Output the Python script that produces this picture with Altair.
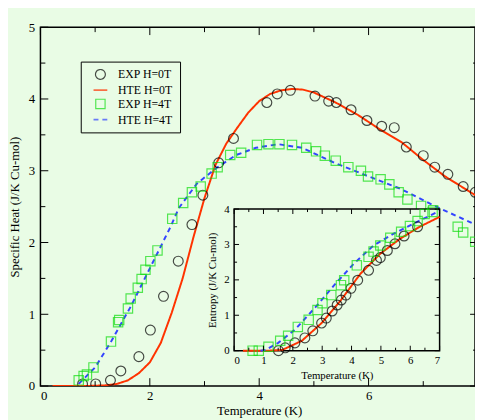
import altair as alt
import pandas as pd

# ---------------- data ----------------
SERIES = ["EXP H=0T", "HTE H=0T", "EXP H=4T", "HTE H=4T"]
COLORS = ["#000000", "#ff3300", "#11dd11", "#3344ff"]

# main panel: specific heat vs temperature
exp0_T = [0.77, 1.01, 1.28, 1.47, 1.80, 2.01, 2.25, 2.52, 2.77, 2.97, 3.26, 3.53, 4.14, 4.33,
          4.57, 5.02, 5.27, 5.41, 5.68, 5.97, 6.24, 6.47, 6.69, 7.00, 7.21, 7.45, 7.73, 7.95]
exp0_C = [0.03, 0.03, 0.08, 0.21, 0.41, 0.78, 1.25, 1.74, 2.25, 2.66, 3.11, 3.45, 3.95, 4.07,
          4.12, 4.04, 3.97, 3.95, 3.85, 3.70, 3.62, 3.60, 3.33, 3.21, 3.05, 2.95, 2.78, 2.70]

exp4_T = [0.70, 0.79, 0.85, 0.97, 1.29, 1.42, 1.44, 1.60, 1.65, 1.78, 1.85, 1.92, 2.01, 2.14,
          2.41, 2.61, 2.77, 2.93, 3.13, 3.24, 3.47, 3.67, 3.96, 4.17, 4.37, 4.60, 4.86, 5.04,
          5.20, 5.40, 5.63, 5.86, 5.99, 6.22, 6.38, 6.55, 6.71, 6.96, 7.18, 7.63, 7.73, 7.95]
exp4_C = [0.08, 0.14, 0.16, 0.26, 0.62, 0.89, 0.92, 1.08, 1.22, 1.37, 1.49, 1.62, 1.74, 1.89,
          2.33, 2.55, 2.70, 2.78, 2.96, 3.05, 3.22, 3.25, 3.36, 3.37, 3.37, 3.36, 3.32, 3.27,
          3.21, 3.14, 3.05, 3.00, 2.92, 2.88, 2.81, 2.70, 2.60, 2.51, 2.45, 2.22, 2.14, 2.01]

hte0_T = [0.22, 0.8, 1.2, 1.4, 1.6, 1.8, 2.0, 2.2, 2.4, 2.6, 2.8, 3.0, 3.2, 3.4, 3.6, 3.8,
          4.0, 4.2, 4.4, 4.6, 4.8, 5.0, 5.4, 5.8, 6.2, 6.6, 7.0, 7.4, 7.95]
hte0_C = [0.0, 0.0, 0.01, 0.03, 0.08, 0.18, 0.33, 0.60, 1.02, 1.50, 2.08, 2.62, 3.08, 3.38,
          3.60, 3.81, 3.97, 4.07, 4.12, 4.14, 4.13, 4.09, 3.95, 3.78, 3.58, 3.40, 3.15, 2.92, 2.66]

hte4_T = [0.70, 1.0, 1.3, 1.66, 2.02, 2.38, 2.53, 2.86, 3.22, 3.58, 3.94, 4.35, 4.78, 5.38,
          5.97, 6.58, 7.18, 7.95]
hte4_C = [0.03, 0.26, 0.63, 1.12, 1.67, 2.22, 2.48, 2.82, 3.04, 3.22, 3.32, 3.37, 3.32, 3.11,
          2.93, 2.75, 2.52, 2.25]

# inset: entropy vs temperature
s_exp0_T = [1.51, 1.74, 2.07, 2.41, 2.68, 2.98, 3.14, 3.34, 3.51, 3.65, 3.81, 3.98, 4.21, 4.58,
            4.85, 4.98, 5.22, 5.48, 5.79, 6.25]
s_exp0_S = [0.0, 0.08, 0.22, 0.36, 0.56, 0.78, 0.92, 1.12, 1.29, 1.43, 1.57, 1.76, 1.99, 2.27,
            2.55, 2.63, 2.83, 3.02, 3.24, 3.50]

s_exp4_T = [0.63, 0.84, 1.17, 1.57, 1.84, 2.17, 2.54, 2.84, 3.01, 3.31, 3.64, 3.75, 4.18, 4.58,
            4.75, 4.98, 5.32, 5.69, 5.99, 6.25, 6.49, 6.76]
s_exp4_S = [0.0, 0.0, 0.11, 0.28, 0.42, 0.67, 0.87, 1.15, 1.34, 1.57, 1.85, 1.99, 2.41, 2.65,
            2.80, 2.97, 3.19, 3.36, 3.52, 3.66, 3.86, 3.92]

s_hte0_T = [0.3, 1.2, 1.64, 2.31, 2.98, 3.64, 4.31, 4.98, 5.65, 6.32, 7.0]
s_hte0_S = [0.0, 0.0, 0.02, 0.28, 0.78, 1.43, 2.18, 2.74, 3.16, 3.50, 3.78]

s_hte4_T = [0.9, 1.07, 1.5, 2.07, 2.74, 3.41, 4.08, 4.75, 5.42, 6.09, 7.0]
s_hte4_S = [0.0, 0.02, 0.22, 0.59, 1.20, 1.85, 2.46, 2.97, 3.30, 3.58, 3.95]

# tick values
x_major = [0, 2, 4, 6]
x_minor = [1, 3, 5, 7]
y_major = [0, 1, 2, 3, 4, 5]
y_minor = [0.5, 1.5, 2.5, 3.5, 4.5]
in_x_major = [0, 1, 2, 3, 4, 5, 6, 7]
in_x_minor = [0.5, 1.5, 2.5, 3.5, 4.5, 5.5, 6.5]
in_y_major = [0, 1, 2, 3, 4]
in_y_minor = [0.5, 1.5, 2.5, 3.5]
inset_box = {"x0": [0], "x1": [7], "y0": [0], "y1": [4]}

# ---------------- build ----------------
BG = "#e9fce5"
FONT = "Liberation Serif"
W, H = 442, 365


def frame(xs, ys, s):
    return pd.DataFrame({"T": xs, "V": ys, "series": s})


main_pts = pd.concat([frame(exp0_T, exp0_C, SERIES[0]), frame(exp4_T, exp4_C, SERIES[2])])
main_lines = pd.concat([frame(hte0_T, hte0_C, SERIES[1]), frame(hte4_T, hte4_C, SERIES[3])])
in_pts = pd.concat([frame(s_exp0_T, s_exp0_S, SERIES[0]), frame(s_exp4_T, s_exp4_S, SERIES[2])])
in_lines = pd.concat([frame(s_hte0_T, s_hte0_S, SERIES[1]), frame(s_hte4_T, s_hte4_S, SERIES[3])])

xs_main = alt.Scale(domain=[0, 8], range=[0, 445], nice=False, zero=False)
ys_main = alt.Scale(domain=[0, 5], nice=False, zero=False)
XL, XR, YT, YB = 197, 406, 185, 329
xs_in = alt.Scale(domain=[0, 7], range=[XL, XR], nice=False, zero=False)
ys_in = alt.Scale(domain=[0, 4], range=[YB, YT], nice=False, zero=False)

ax_main_x = alt.Axis(values=x_major, ticks=False, domain=False, grid=False,
                     labelPadding=4, titlePadding=2, title="Temperature (K)")
ax_main_y = alt.Axis(values=y_major, ticks=False, domain=False, grid=False,
                     labelPadding=6, titlePadding=7, title="Specific Heat (J/K Cu-mol)")
ax_in_x = alt.Axis(orient="bottom", offset=-(H - YB), values=in_x_major, ticks=False,
                   domain=False, grid=False, zindex=1, labelFontSize=11, labelPadding=4,
                   titleFontSize=11, titlePadding=4, title="Temperature (K)")
ax_in_y = alt.Axis(orient="left", offset=-XL, values=in_y_major, ticks=False,
                   domain=False, grid=False, zindex=1, labelFontSize=11, labelPadding=5,
                   titleFontSize=11, titlePadding=6, title="Entropy (J/K Cu-mol)")

leg = alt.Legend(title=None, orient="none", legendX=41, legendY=35)
color = alt.Color("series:N", scale=alt.Scale(domain=SERIES, range=COLORS), legend=leg)
shape = alt.Shape("series:N", scale=alt.Scale(type="ordinal", domain=SERIES,
                  range=["circle", "stroke", "square", "stroke"]), legend=leg)
size = alt.Size("series:N", scale=alt.Scale(type="ordinal", domain=SERIES,
                range=[100, 196, 90, 196]), legend=leg)
swidth = alt.StrokeWidth("series:N", scale=alt.Scale(type="ordinal", domain=SERIES,
                         range=[1.2, 2, 1.2, 2]), legend=leg)
dash = alt.StrokeDash("series:N", scale=alt.Scale(type="ordinal", domain=SERIES,
                      range=[[1, 0], [1, 0], [1, 0], [5, 4]]), legend=leg)


def tick_layers(xs, ys, axx, axy, xmaj, xmin, ymaj, ymin, left, right, top, bottom, lmaj, lmin):
    layers = []
    for vals, ln in ((xmaj, lmaj), (xmin, lmin)):
        d = pd.DataFrame({"t": vals})
        base = alt.Chart(d).mark_rule(color="black", strokeWidth=1)
        layers.append(base.encode(x=alt.X("t:Q", scale=xs, axis=axx),
                                  y=alt.value(bottom), y2=alt.value(bottom - ln)))
        layers.append(base.encode(x=alt.X("t:Q", scale=xs, axis=axx),
                                  y=alt.value(top), y2=alt.value(top + ln)))
    for vals, ln in ((ymaj, lmaj), (ymin, lmin)):
        d = pd.DataFrame({"t": vals})
        base = alt.Chart(d).mark_rule(color="black", strokeWidth=1)
        layers.append(base.encode(y=alt.Y("t:Q", scale=ys, axis=axy),
                                  x=alt.value(left), x2=alt.value(left + ln)))
        layers.append(base.encode(y=alt.Y("t:Q", scale=ys, axis=axy),
                                  x=alt.value(right), x2=alt.value(right - ln)))
    return layers


# main panel
main_line_layer = alt.Chart(main_lines).mark_line(strokeWidth=2, clip=True).encode(
    x=alt.X("T:Q", scale=xs_main, axis=ax_main_x),
    y=alt.Y("V:Q", scale=ys_main, axis=ax_main_y),
    color=color, strokeDash=dash, detail="series:N", order="T:Q",
)
main_pt_layer = alt.Chart(main_pts).mark_point(filled=False, clip=True).encode(
    x=alt.X("T:Q", scale=xs_main, axis=ax_main_x),
    y=alt.Y("V:Q", scale=ys_main, axis=ax_main_y),
    color=color, shape=shape, size=size, strokeWidth=swidth,
)
main = alt.layer(main_line_layer, main_pt_layer,
                 *tick_layers(xs_main, ys_main, ax_main_x, ax_main_y,
                              x_major, x_minor, y_major, y_minor,
                              0, 445, 0, H, 8, 5))

# inset panel
in_bg = alt.Chart(pd.DataFrame(inset_box)).mark_rect(fill=BG, stroke="black", strokeWidth=1.5).encode(
    x=alt.X("x0:Q", scale=xs_in, axis=ax_in_x),
    x2="x1:Q",
    y=alt.Y("y0:Q", scale=ys_in, axis=ax_in_y),
    y2="y1:Q",
)
in_line_layer = alt.Chart(in_lines).mark_line(strokeWidth=2).encode(
    x=alt.X("T:Q", scale=xs_in, axis=ax_in_x),
    y=alt.Y("V:Q", scale=ys_in, axis=ax_in_y),
    color=color, strokeDash=dash, detail="series:N", order="T:Q",
)
in_pt_layer = alt.Chart(in_pts).mark_point(filled=False).encode(
    x=alt.X("T:Q", scale=xs_in, axis=ax_in_x),
    y=alt.Y("V:Q", scale=ys_in, axis=ax_in_y),
    color=color, shape=shape, size=size, strokeWidth=swidth,
)
inset = alt.layer(in_bg, in_line_layer, in_pt_layer,
                  *tick_layers(xs_in, ys_in, ax_in_x, ax_in_y,
                               in_x_major, in_x_minor, in_y_major, in_y_minor,
                               XL, XR, YT, YB, 5, 3))

chart = alt.layer(main, inset).resolve_scale(x="independent", y="independent").properties(
    width=W, height=H,
    padding={"left": 33, "top": 16, "right": 0, "bottom": 31},
    autosize=alt.AutoSizeParams(type="none"),
    background=BG,
).configure_view(
    stroke="black", strokeWidth=1.5,
).configure_axis(
    labelFont=FONT, titleFont=FONT, labelFontSize=13, titleFontSize=13,
    labelColor="black", titleColor="black", titleFontWeight="normal",
).configure_legend(
    labelFont=FONT, labelFontSize=12, labelColor="black",
    fillColor=BG, strokeColor="black", padding=7,
    rowPadding=0, symbolOffset=5, labelOffset=10, cornerRadius=0,
)

chart.save("out.html", embed_options={"renderer": "svg", "actions": False})
